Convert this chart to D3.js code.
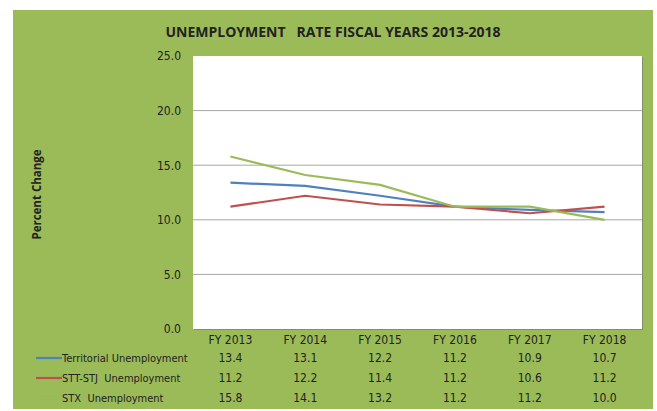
<!DOCTYPE html>
<html>
<head>
<meta charset="utf-8">
<script src="https://cdn.jsdelivr.net/npm/d3@7"></script>
<style>
  body { margin: 0; background: #fff; }
  svg text { font-family: "Liberation Sans Narrow", "DejaVu Sans Condensed", "Open Sans", sans-serif; fill: #222; }
</style>
</head>
<body>
<div id="chartArea"></div>
<script>
// data setup
var years = ["FY 2013", "FY 2014", "FY 2015", "FY 2016", "FY 2017", "FY 2018"];
var seriesNames = ["Territorial Unemployment", "STT-STJ  Unemployment", "STX  Unemployment"];
var territorial = [13.4, 13.1, 12.2, 11.2, 10.9, 10.7];
var sttStj = [11.2, 12.2, 11.4, 11.2, 10.6, 11.2];
var stx = [15.8, 14.1, 13.2, 11.2, 11.2, 10.0];
var yTicks = [0, 5, 10, 15, 20, 25];

var colors = ["#4f81bd", "#c0504d", "#9bbb59"];
var series = [territorial, sttStj, stx].map(function(v, i) {
  return { name: seriesNames[i], values: v, color: colors[i] };
});

var W = 657, H = 411;
var plot = { left: 193, right: 642, top: 56, bottom: 329 };

var svg = d3.select("#chartArea").append("svg")
  .attr("width", W)
  .attr("height", H);

// green chart background
svg.append("rect")
  .attr("x", 13).attr("y", 10)
  .attr("width", 640).attr("height", 399)
  .attr("fill", "#9bbb59");

// title
svg.append("text")
  .attr("x", 333).attr("y", 37)
  .attr("text-anchor", "middle")
  .style("font-family", "'Open Sans', sans-serif")
  .style("font-weight", "bold")
  .style("font-size", "14px")
  .style("white-space", "pre")
  .attr("xml:space", "preserve")
  .text("UNEMPLOYMENT   RATE FISCAL YEARS 2013-2018");

// scales
var x = d3.scaleBand().domain(years).range([plot.left, plot.right]);
var y = d3.scaleLinear().domain([0, 25]).range([plot.bottom, plot.top]);

// plot area with a little shadow
svg.append("rect")
  .attr("x", plot.left + 1).attr("y", plot.top + 1)
  .attr("width", plot.right - plot.left).attr("height", plot.bottom - plot.top)
  .attr("fill", "#7f8f6a");
svg.append("rect")
  .attr("x", plot.left).attr("y", plot.top)
  .attr("width", plot.right - plot.left).attr("height", plot.bottom - plot.top)
  .attr("fill", "#fff");

// gridlines
svg.append("g")
  .selectAll("line")
  .data(yTicks.filter(function(d) { return d > 0 && d < 25; }))
  .enter().append("line")
  .attr("x1", plot.left).attr("x2", plot.right)
  .attr("y1", function(d) { return y(d); })
  .attr("y2", function(d) { return y(d); })
  .attr("stroke", "#a6a6a6")
  .attr("stroke-width", 1);

// Y axis labels
var yAxis = svg.append("g")
  .attr("transform", "translate(" + plot.left + ",0)")
  .call(d3.axisLeft(y).tickValues(yTicks).tickFormat(d3.format(".1f")).tickSize(0).tickPadding(12));
yAxis.select(".domain").remove();
yAxis.selectAll("text").style("font-size", "12px").attr("fill", "#222");

// Y axis title
svg.append("text")
  .attr("transform", "translate(41," + ((plot.top + plot.bottom) / 2 + 2) + ") rotate(-90)")
  .attr("text-anchor", "middle")
  .style("font-family", "'Open Sans', sans-serif")
  .style("font-weight", "bold")
  .style("font-size", "11.5px")
  .text("Percent Change");

// lines
var line = d3.line()
  .x(function(d, i) { return x(years[i]) + x.bandwidth() / 2; })
  .y(function(d) { return y(d); });

svg.append("g")
  .selectAll("path")
  .data(series)
  .enter().append("path")
  .attr("d", function(d) { return line(d.values); })
  .attr("fill", "none")
  .attr("stroke", function(d) { return d.color; })
  .attr("stroke-width", 2.2);

// X axis category labels
var xAxis = svg.append("g")
  .attr("transform", "translate(0," + plot.bottom + ")")
  .call(d3.axisBottom(x).tickSize(0).tickPadding(6));
xAxis.select(".domain").remove();
xAxis.selectAll("text").style("font-size", "12px").attr("fill", "#222");

// data table rows
var rowY = d3.scalePoint().domain(seriesNames).range([358, 398]);

var rows = svg.append("g")
  .selectAll("g")
  .data(series)
  .enter().append("g")
  .attr("transform", function(d) { return "translate(0," + rowY(d.name) + ")"; });

rows.append("line")
  .attr("x1", 36).attr("x2", 62)
  .attr("y1", 0).attr("y2", 0)
  .attr("stroke", function(d) { return d.color; })
  .attr("stroke-width", 2.2);

rows.append("text")
  .attr("x", 62)
  .attr("dy", "0.35em")
  .style("font-size", "11px")
  .style("white-space", "pre")
  .attr("xml:space", "preserve")
  .text(function(d) { return d.name; });

rows.selectAll("text.val")
  .data(function(d) { return d.values; })
  .enter().append("text")
  .attr("class", "val")
  .attr("x", function(d, i) { return x(years[i]) + x.bandwidth() / 2; })
  .attr("dy", "0.35em")
  .attr("text-anchor", "middle")
  .style("font-size", "12px")
  .text(function(d) { return d3.format(".1f")(d); });
</script>
</body>
</html>
